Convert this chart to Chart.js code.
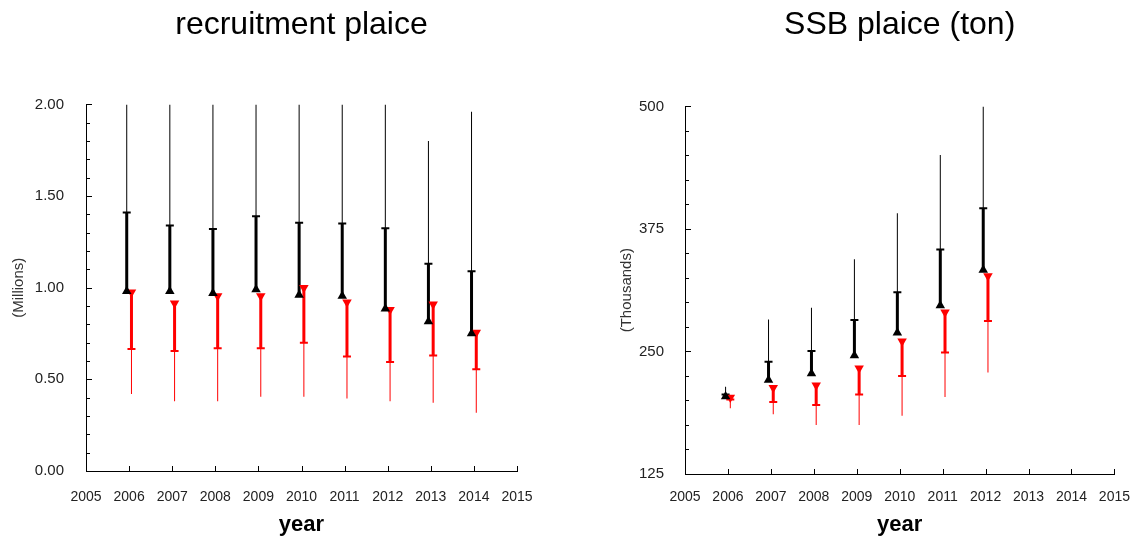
<!DOCTYPE html>
<html>
<head>
<meta charset="utf-8">
<title>Plaice recruitment and SSB</title>
<script src="https://cdn.jsdelivr.net/npm/chart.js@4/dist/chart.umd.min.js"></script>
<style>
  html, body { margin: 0; padding: 0; background: #fff; }
  #wrap { position: relative; width: 1137px; height: 539px; }
  canvas { position: absolute; top: 0; }
  #chartRec { left: 0; }
  #chartSsb { left: 568px; }
</style>
</head>
<body>
<div id="wrap">
  <canvas id="chartRec" width="568" height="539"></canvas>
  <canvas id="chartSsb" width="569" height="539"></canvas>
</div>
<script>
// recruitment (millions): estimate with upper bands, prediction with lower bands
const recYears = [2006, 2007, 2008, 2009, 2010, 2011, 2012, 2013, 2014];
const recEst   = [0.98, 0.98, 0.97, 0.99, 0.96, 0.955, 0.885, 0.815, 0.75];
const recHi80  = [1.41, 1.34, 1.32, 1.39, 1.355, 1.35, 1.325, 1.13, 1.09];
const recHi95  = [2.0, 2.0, 2.0, 2.0, 2.0, 2.0, 2.0, 1.80, 1.96];
const recPred  = [0.975, 0.915, 0.955, 0.955, 1.0, 0.92, 0.88, 0.91, 0.755];
const recLo80  = [0.665, 0.655, 0.67, 0.67, 0.70, 0.625, 0.595, 0.63, 0.555];
const recLo95  = [0.42, 0.38, 0.38, 0.405, 0.405, 0.395, 0.38, 0.372, 0.318];

// spawning stock biomass (thousand tonnes)
const ssbYears = [2006, 2007, 2008, 2009, 2010, 2011, 2012];
const ssbEst   = [204, 221, 227.5, 246, 269, 297, 333];
const ssbHi80  = [206, 239.5, 250.5, 282, 310.5, 354, 396];
const ssbHi95  = [214, 282.5, 294.5, 344, 391, 450.5, 500];
const ssbPred  = [203, 213, 215.5, 233, 260.5, 290, 327];
const ssbLo80  = [201, 198.5, 195.5, 206, 225, 249, 281];
const ssbLo95  = [192, 186, 175, 175, 184.5, 203.5, 228.5];

const xTicks = [2005, 2015];

const FONT = 'Liberation Sans, Arial, sans-serif';
const SHIFT = 0.055; // estimate left of the year, prediction right of it

// short tick marks drawn inside the axes
const inwardTicks = {
  id: 'inwardTicks',
  afterDraw(chart) {
    const { ctx, chartArea, scales: { x, y } } = chart;
    ctx.save();
    ctx.strokeStyle = '#000';
    ctx.lineWidth = 1;
    ctx.beginPath();
    x.ticks.forEach(t => {
      const px = Math.round(x.getPixelForValue(t.value)) + 0.5;
      ctx.moveTo(px, chartArea.bottom);
      ctx.lineTo(px, chartArea.bottom - 5);
    });
    y.ticks.forEach(t => {
      const py = Math.round(y.getPixelForValue(t.value)) + 0.5;
      ctx.moveTo(chartArea.left, py);
      ctx.lineTo(chartArea.left + (t.label ? 6 : 4), py);
    });
    ctx.stroke();
    ctx.restore();
  }
};

function pts(xs, ys) {
  return xs.map((x, i) => ({ x: x, y: ys[i] }));
}
function spans(xs, a, b) {
  return xs.map((x, i) => ({ x: x, y: [a[i], b[i]] }));
}

function bandSets(years, est, hi80, hi95, pred, lo80, lo95) {
  const bx = years.map(v => v - SHIFT);
  const rx = years.map(v => v + SHIFT);
  const bar = (data, color, w) => ({
    type: 'bar', data: data, backgroundColor: color, borderWidth: 0,
    maxBarThickness: w, grouped: false, inflateAmount: 0, order: 3
  });
  const marker = (data, color, style, rot, r, bw, order) => ({
    type: 'scatter', data: data, pointStyle: style, pointRotation: rot,
    pointRadius: r, pointBackgroundColor: color, pointBorderColor: color,
    pointBorderWidth: bw, order: order
  });
  return [
    marker(pts(bx, est), '#000', 'triangle', 0, 5.5, 0, 0),
    marker(pts(rx, pred), '#f00', 'triangle', 180, 5.5, 0, 0),
    marker(pts(bx, hi80), '#000', 'line', 0, 4, 2, 1),
    marker(pts(rx, lo80), '#f00', 'line', 0, 4, 2, 1),
    bar(spans(bx, est, hi80), '#000', 3),
    bar(spans(rx, lo80, pred), '#f00', 3),
    bar(spans(bx, est, hi95), '#000', 1),
    bar(spans(rx, lo95, pred), '#f00', 1)
  ];
}

function makeChart(el, o) {
  return new Chart(document.getElementById(el), {
    type: 'bar',
    data: { datasets: o.datasets },
    plugins: [inwardTicks],
    options: {
      responsive: false,
      animation: false,
      events: [],
      layout: { padding: { left: 0, right: o.padRight, top: 0, bottom: 0 } },
      plugins: {
        legend: { display: false },
        tooltip: { enabled: false },
        title: {
          display: true, text: o.title, color: '#000', fullSize: false,
          font: { family: FONT, size: 32, weight: 'normal' },
          padding: { top: 6, bottom: o.titleGap }
        }
      },
      scales: {
        x: {
          type: 'linear', min: xTicks[0], max: xTicks[1], offset: false,
          grid: { display: false },
          border: { display: true, color: '#000', width: 1 },
          ticks: {
            stepSize: 1, autoSkip: false, maxRotation: 0, padding: o.xPad,
            color: '#222', font: { family: FONT, size: 14 },
            callback: v => String(v)
          },
          title: {
            display: true, text: 'year', color: '#000',
            font: { family: FONT, size: 22, weight: 'bold' },
            padding: { top: 0, bottom: 1 }
          },
          afterFit: s => { s.height = o.xHeight; }
        },
        y: {
          type: 'linear', min: o.yMin, max: o.yMax,
          grid: { display: false },
          border: { display: true, color: '#000', width: 1 },
          ticks: {
            stepSize: o.yMinor, autoSkip: false, padding: o.yPad,
            color: '#222', font: { family: FONT, size: 15 },
            callback: o.yLabel
          },
          title: {
            display: true, text: o.yTitle, color: '#333',
            font: { family: FONT, size: 15 },
            padding: { top: o.yTitlePad, bottom: 0 }
          },
          afterFit: s => { s.width = o.yWidth; }
        }
      }
    }
  });
}

const isMajor = (v, step) => Math.abs(v / step - Math.round(v / step)) < 1e-6;

makeChart('chartRec', {
  title: 'recruitment plaice',
  datasets: bandSets(recYears, recEst, recHi80, recHi95, recPred, recLo80, recLo95),
  yMin: 0, yMax: 2, yMinor: 0.1,
  yLabel: v => isMajor(v, 0.5) ? v.toFixed(2) : '',
  yTitle: '(Millions)', yTitlePad: 10, yWidth: 86, yPad: 14,
  xHeight: 68, xPad: 10, padRight: 51, titleGap: 60
});

makeChart('chartSsb', {
  title: 'SSB plaice (ton)',
  datasets: bandSets(ssbYears, ssbEst, ssbHi80, ssbHi95, ssbPred, ssbLo80, ssbLo95),
  yMin: 125, yMax: 500, yMinor: 25,
  yLabel: v => isMajor(v, 125) ? String(v) : '',
  yTitle: '(Thousands)', yTitlePad: 50, yWidth: 117, yPad: 13,
  xHeight: 65, xPad: 7, padRight: 20, titleGap: 62
});
</script>
</body>
</html>
